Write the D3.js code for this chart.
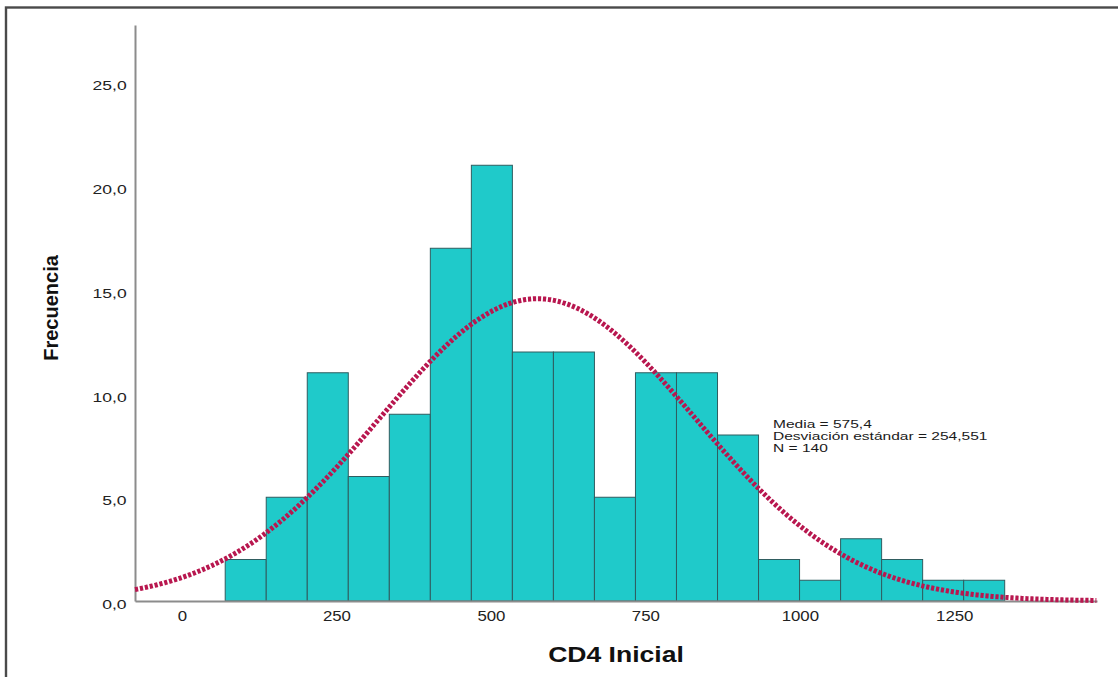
<!DOCTYPE html>
<html>
<head>
<meta charset="utf-8">
<script src="https://cdn.jsdelivr.net/npm/d3@7"></script>
<style>
  html, body { margin: 0; padding: 0; background: #fff; }
  svg { display: block; font-family: "Liberation Sans", Arial, sans-serif; }
</style>
</head>
<body>
<svg id="chart" width="1118" height="677"></svg>
<script>
// Histogram of initial CD4 counts (N = 140) with fitted normal curve
const binStart = 70;          // lower edge of the first bin (cells/µL)
const binWidth = 66.4;        // width of every bin
const binCounts = [2, 5, 11, 6, 9, 17, 21, 12, 12, 5, 11, 11, 8, 2, 1, 3, 2, 1, 1];
const xTicks = [0, 250, 500, 750, 1000, 1250];
const yTicks = [0, 5, 10, 15, 20, 25];
const xDomain = [-76, 1481];
const yDomain = [0, 27.76];
const statMean = 575.4;
const statSD = 254.551;
const statN = 140;
const statLines = ["Media = 575,4", "Desviación estándar = 254,551", "N = 140"];

const svg = d3.select("#chart");

// outer frame (only its top and left edges fall inside the view)
svg.append("rect")
  .attr("x", 6).attr("y", 7.5)
  .attr("width", 1200).attr("height", 800)
  .attr("fill", "none").attr("stroke", "#4a4a4a").attr("stroke-width", 2.4);

const x = d3.scaleLinear().domain(xDomain).range([135, 1097]);
const y = d3.scaleLinear().domain(yDomain).range([601, 25]);

const bins = binCounts.map((c, i) => ({
  x0: binStart + i * binWidth,
  x1: binStart + (i + 1) * binWidth,
  count: c
}));

// bars
svg.append("g").selectAll("rect")
  .data(bins)
  .join("rect")
  .attr("x", d => x(d.x0))
  .attr("y", d => y(d.count))
  .attr("width", d => x(d.x1) - x(d.x0))
  .attr("height", d => y(0) - y(d.count))
  .attr("fill", "#1fcaca")
  .attr("stroke", "#2f5d60")
  .attr("stroke-width", 1);

// axes
const locale = d3.formatLocale({ decimal: ",", thousands: ".", grouping: [3], currency: ["", "€"] });
const fmtY = locale.format(".1f");

const yAxis = svg.append("g")
  .attr("transform", `translate(135,0)`)
  .call(d3.axisLeft(y).tickValues(yTicks).tickFormat(fmtY).tickSize(0).tickSizeOuter(0));
yAxis.select(".domain").attr("stroke", "#8c8c8c").attr("stroke-width", 2);
yAxis.selectAll("text")
  .attr("x", -6.2).attr("dy", null).attr("y", 7.5)
  .attr("transform", "scale(1.35,1)")
  .attr("font-size", 13).attr("fill", "#222")
  .attr("font-family", "Liberation Sans, Arial, sans-serif");

const xAxis = svg.append("g")
  .attr("transform", `translate(0,601)`)
  .call(d3.axisBottom(x).tickValues(xTicks).tickFormat(d3.format("d")).tickSize(0).tickSizeOuter(0));
xAxis.select(".domain").attr("stroke", "#8c8c8c").attr("stroke-width", 2);
xAxis.selectAll("text")
  .attr("y", 20).attr("dy", null)
  .attr("transform", "scale(1.2,1)")
  .attr("font-size", 14).attr("fill", "#222")
  .attr("font-family", "Liberation Sans, Arial, sans-serif");

// fitted normal curve scaled to counts per bin
const curvePts = d3.range(xDomain[0], xDomain[1] + 1, 4).map(v => {
  const z = (v - statMean) / statSD;
  return [v, statN * binWidth / (statSD * Math.sqrt(2 * Math.PI)) * Math.exp(-0.5 * z * z)];
});
svg.append("path")
  .datum(curvePts)
  .attr("d", d3.line().x(d => x(d[0])).y(d => y(d[1])).curve(d3.curveBasis))
  .attr("fill", "none")
  .attr("stroke", "#b8174f")
  .attr("stroke-width", 5)
  .attr("stroke-dasharray", "3.2,1.8");

// statistics box
const stats = svg.append("g").attr("transform", "translate(773,0)");
stats.selectAll("text")
  .data(statLines)
  .join("text")
  .attr("transform", (d, i) => `translate(0,${428 + i * 12}) scale(1.35,1)`)
  .attr("font-size", 11.5)
  .attr("fill", "#1a1a1a")
  .text(d => d);

// axis titles
svg.append("text")
  .attr("transform", "translate(616,662) scale(1.18,1)")
  .attr("text-anchor", "middle")
  .attr("font-size", 22.5)
  .attr("font-weight", "bold")
  .attr("fill", "#111")
  .text("CD4 Inicial");

svg.append("text")
  .attr("transform", "translate(58,308) rotate(-90)")
  .attr("text-anchor", "middle")
  .attr("font-size", 20)
  .attr("font-weight", "bold")
  .attr("fill", "#111")
  .text("Frecuencia");
</script>
</body>
</html>
